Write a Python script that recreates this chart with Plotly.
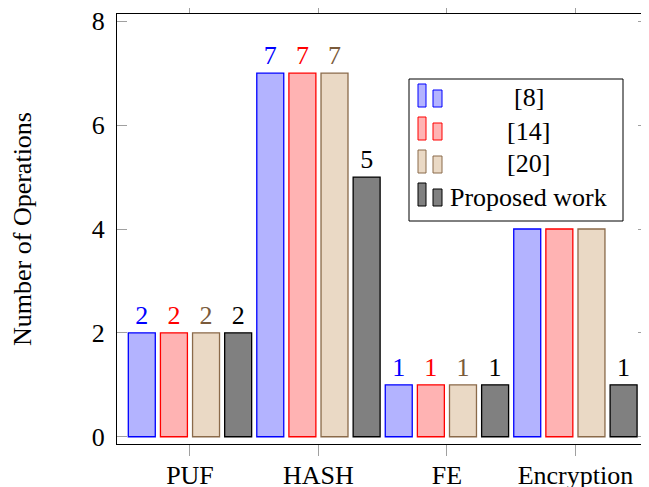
import plotly.graph_objects as go

categories = ["PUF", "HASH", "FE", "Encryption"]
series_names = ["[8]", "[14]", "[20]", "Proposed work"]
values_8 = [2, 7, 1, 4]
values_14 = [2, 7, 1, 4]
values_20 = [2, 7, 1, 4]
values_proposed = [2, 5, 1, 1]
y_ticks = [0, 2, 4, 6, 8]

all_values = [values_8, values_14, values_20, values_proposed]
fills = ["#B3B3FF", "#FFB3B3", "#EAD9C5", "#808080"]
edges = ["#0000FF", "#FF0000", "#8A6A4A", "#000000"]
label_colors = ["#0000FF", "#FF0000", "#7A5A3A", "#000000"]

FONT = "Liberation Serif"
FS = 26

# page body has an 8px margin; figure sized to fit the window
W, H = 641, 479
ML, MR, MT, MB = 109, 1, 6, 43
PW, PH = W - ML - MR, H - MT - MB
OFF = 8


def px(xp):
    return (xp - OFF - ML) / PW


def py(yp):
    return (H - MB - (yp - OFF)) / PH


fig = go.Figure()
for k, (name, vals, fc, ec) in enumerate(zip(series_names, all_values, fills, edges)):
    fig.add_trace(go.Bar(
        x=categories, y=vals, name=name, offsetgroup=str(k),
        marker=dict(color=fc, line=dict(color=ec, width=1.3)),
        showlegend=False,
    ))
# value labels above the bars
for k, (name, vals, lc) in enumerate(zip(series_names, all_values, label_colors)):
    fig.add_trace(go.Scatter(
        x=categories, y=vals, name=name, offsetgroup=str(k),
        mode="markers+text", marker=dict(size=2, opacity=0),
        text=[str(v) for v in vals], textposition="top center",
        textfont=dict(color=lc, size=FS, family=FONT),
        cliponaxis=False, showlegend=False, hoverinfo="skip",
    ))

# custom pgfplots-style legend (drawn above the bars)
shapes = [dict(type="rect", xref="paper", yref="paper", layer="above",
               x0=px(409), x1=px(623), y0=py(221), y1=py(79),
               fillcolor="white", line=dict(color="black", width=1))]
annotations = []
for i, (name, fc, ec) in enumerate(zip(series_names, fills, edges)):
    bottom = 107 + 33 * i
    shapes.append(dict(type="rect", xref="paper", yref="paper", layer="above",
                       x0=px(418), x1=px(426), y0=py(bottom), y1=py(bottom - 23),
                       fillcolor=fc, line=dict(color=ec, width=1)))
    shapes.append(dict(type="rect", xref="paper", yref="paper", layer="above",
                       x0=px(433), x1=px(442), y0=py(bottom), y1=py(bottom - 17),
                       fillcolor=fc, line=dict(color=ec, width=1)))
    annotations.append(dict(xref="paper", yref="paper", x=px(528.5), y=py(bottom - 9),
                            xanchor="center", yanchor="middle", showarrow=False,
                            text=name, font=dict(family=FONT, size=FS, color="black")))

fig.update_layout(
    width=W, height=H,
    margin=dict(l=ML, r=MR, t=MT, b=MB, autoexpand=False),
    paper_bgcolor="white", plot_bgcolor="white",
    barmode="group", bargap=0.0, bargroupgap=0.16,
    scattermode="group", scattergap=0.0,
    font=dict(family=FONT, size=FS, color="black"),
    showlegend=False,
    shapes=shapes, annotations=annotations,
)
fig.update_xaxes(
    range=[-0.568, 3.565], showgrid=False, showline=True, linecolor="black", linewidth=1,
    mirror="ticks", ticks="outside", ticklen=11, tickcolor="#A0A0A0", tickwidth=1,
    tickfont=dict(family=FONT, size=FS), zeroline=False, automargin=False,
    ticklabelstandoff=-3, ticklabeloverflow="allow",
)
fig.update_yaxes(
    range=[-0.14, 8.14], tickvals=y_ticks, showgrid=False, showline=True, linecolor="black",
    linewidth=1, mirror="ticks", ticks="inside", ticklen=10, tickcolor="#A0A0A0", tickwidth=1,
    tickfont=dict(family=FONT, size=FS), zeroline=False, ticklabelstandoff=6, automargin=False,
    ticklabeloverflow="allow",
    title=dict(text="Number of Operations", font=dict(family=FONT, size=FS), standoff=54),
)

fig.write_html("out.html")
